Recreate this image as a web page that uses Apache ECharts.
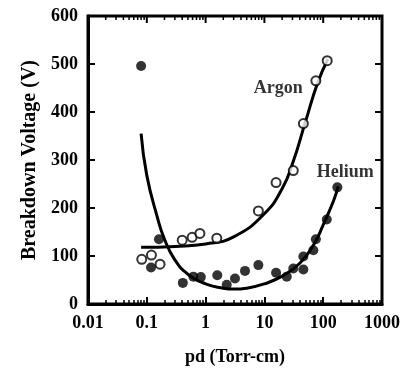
<!DOCTYPE html>
<html>
<head>
<meta charset="utf-8">
<script src="https://cdn.jsdelivr.net/npm/echarts@6/dist/echarts.min.js"></script>
<style>
  html, body { margin: 0; padding: 0; background: #fff; }
  #chart { width: 404px; height: 373px; }
</style>
</head>
<body>
<div id="chart"></div>
<script>
// measured points (pd in Torr-cm, voltage in V)
const argonPd = [0.082, 0.12, 0.168, 0.40, 0.59, 0.80, 1.55, 7.9, 15.8, 31, 46, 75, 117];
const argonV = [93, 102, 83, 133, 139, 147, 137, 194, 253, 278, 376, 465, 507];

const heliumPd = [0.080, 0.161, 0.118, 0.41, 0.62, 0.83, 1.58, 2.29, 3.16, 4.68, 7.9, 15.8, 24, 31, 46, 46, 68, 75, 115, 174];
const heliumV = [496, 135, 76, 44, 57, 56, 60, 40, 53, 69, 81, 65, 57, 74, 72, 99, 112, 135, 176, 243];

// fitted curves
const argonFitPd = [0.08, 0.3, 1, 3, 10, 20, 30, 50, 80, 120];
const argonFitV = [118, 120, 125, 140, 188, 240, 292, 380, 460, 510];

const heliumFitPd = [0.08, 0.1, 0.15, 0.2, 0.3, 0.5, 1, 2, 3, 5, 10, 20, 40, 70, 100, 150, 180];
const heliumFitV = [355, 268, 182, 135, 92, 62, 42, 33, 31, 33, 42, 58, 85, 125, 165, 215, 245];

// axis ranges and ticks
const xTicks = [0.01, 1000];
const yTicks = [0, 600, 100];
const xDecades = [0.01, 0.1, 1, 10, 100, 1000];
const minorSteps = [2, 3, 4, 5, 6, 7, 8, 9];
const yInnerTicks = [100, 200, 300, 400, 500];

const zip = (a, b) => a.map((v, i) => [v, b[i]]);
const font = '"Liberation Serif", "DejaVu Serif", serif';

// tick marks for the top and right side of the frame: [x, y, kind]
const frameTicks = []
  .concat(xDecades.map(v => [v, yTicks[1], 0]))
  .concat(xDecades.slice(0, -1).flatMap(d => minorSteps.map(m => [d * m, yTicks[1], 1])))
  .concat(yInnerTicks.map(v => [xTicks[1], v, 2]));

const chart = echarts.init(document.getElementById('chart'));

const option = {
  animation: false,
  backgroundColor: '#fff',
  grid: {
    left: 88, right: 22, top: 16, bottom: 69,
    show: true, borderColor: '#000', borderWidth: 3, backgroundColor: 'transparent'
  },
  xAxis: {
    type: 'log',
    logBase: 10,
    min: xTicks[0],
    max: xTicks[1],
    name: 'pd (Torr-cm)',
    nameLocation: 'middle',
    nameGap: 44,
    nameTextStyle: { fontFamily: font, fontWeight: 'bold', fontSize: 18, color: '#000' },
    axisLine: { show: true, onZero: false, lineStyle: { color: '#000', width: 3 } },
    axisTick: { show: true, inside: true, length: 7, lineStyle: { color: '#000', width: 2 } },
    minorTick: { show: true, splitNumber: 9, length: 4, lineStyle: { color: '#000', width: 1.5 } },
    splitLine: { show: false },
    axisLabel: {
      fontFamily: font, fontWeight: 'bold', fontSize: 18, margin: 10, color: '#000',
      formatter: v => String(v)
    }
  },
  yAxis: {
    type: 'value',
    min: yTicks[0],
    max: yTicks[1],
    interval: yTicks[2],
    name: 'Breakdown Voltage (V)',
    nameLocation: 'middle',
    nameGap: 45,
    nameTextStyle: { fontFamily: font, fontWeight: 'bold', fontSize: 20, color: '#000' },
    axisLine: { show: true, onZero: false, lineStyle: { color: '#000', width: 3 } },
    axisTick: { show: true, inside: true, length: 7, lineStyle: { color: '#000', width: 2 } },
    splitLine: { show: false },
    axisLabel: { fontFamily: font, fontWeight: 'bold', fontSize: 18, margin: 10, color: '#000' }
  },
  series: [
    {
      name: 'Argon fit',
      type: 'line',
      smooth: true,
      symbol: 'none',
      lineStyle: { color: '#000', width: 3 },
      data: zip(argonFitPd, argonFitV),
      z: 2
    },
    {
      name: 'Helium fit',
      type: 'line',
      smooth: true,
      symbol: 'none',
      lineStyle: { color: '#000', width: 3 },
      data: zip(heliumFitPd, heliumFitV),
      z: 2
    },
    {
      name: 'Argon',
      type: 'scatter',
      symbol: 'circle',
      symbolSize: 9,
      itemStyle: { color: '#fff', borderColor: '#000', borderWidth: 2 },
      data: zip(argonPd, argonV),
      z: 3
    },
    {
      name: 'Helium',
      type: 'scatter',
      symbol: 'circle',
      symbolSize: 10,
      itemStyle: { color: '#000' },
      data: zip(heliumPd, heliumV),
      z: 4
    },
    {
      name: 'labels',
      type: 'scatter',
      symbolSize: 0,
      silent: true,
      data: [
        { value: [argonPd[11], argonV[11]], label: { show: true, formatter: 'Argon', position: 'left', offset: [-8, 8] } },
        { value: [heliumPd[19], heliumV[19]], label: { show: true, formatter: 'Helium', position: 'top', offset: [8, -1] } }
      ],
      label: { fontFamily: font, fontWeight: 'bold', fontSize: 18, color: '#000' },
      z: 5
    },
    {
      // inward ticks on the top and right frame edges
      name: 'frame ticks',
      type: 'custom',
      silent: true,
      clip: false,
      data: frameTicks,
      renderItem: function (params, api) {
        const p = api.coord([api.value(0), api.value(1)]);
        const kind = api.value(2);
        let shape;
        let w = 2;
        if (kind === 0) {
          shape = { x1: p[0], y1: p[1], x2: p[0], y2: p[1] + 7 };
        } else if (kind === 1) {
          shape = { x1: p[0], y1: p[1], x2: p[0], y2: p[1] + 4 };
          w = 1.5;
        } else {
          shape = { x1: p[0], y1: p[1], x2: p[0] - 7, y2: p[1] };
        }
        return { type: 'line', shape: shape, style: { stroke: '#000', lineWidth: w } };
      },
      z: 6
    }
  ]
};

chart.setOption(option);
</script>
</body>
</html>
